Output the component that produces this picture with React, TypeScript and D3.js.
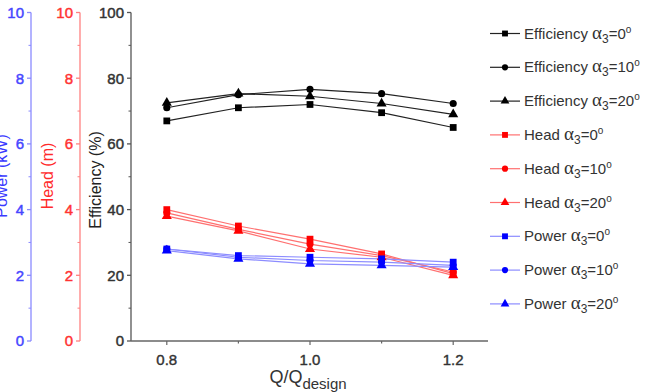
import { useEffect, useRef } from 'react';
import * as d3 from 'd3';

const width = 651;
const height = 392;

const flow = [0.8, 0.9, 1.0, 1.1, 1.2];
const angles = ['0', '10', '20'];

const effSquare = [67, 71, 72, 69.5, 65];
const effCircle = [71, 75, 76.6, 75.3, 72.3];
const effTriangle = [72.5, 75.3, 74.5, 72.3, 69];

const headSquare = [4.0, 3.5, 3.1, 2.65, 2.05];
const headCircle = [3.9, 3.4, 2.95, 2.6, 2.1];
const headTriangle = [3.8, 3.35, 2.8, 2.55, 2.0];

const powerSquare = [2.8, 2.6, 2.55, 2.5, 2.4];
const powerCircle = [2.8, 2.55, 2.45, 2.4, 2.3];
const powerTriangle = [2.75, 2.5, 2.35, 2.3, 2.25];

const effTicks = [0, 20, 40, 60, 80, 100];
const sideTicks = [0, 2, 4, 6, 8, 10];
const xTickLabels = [0.8, 1.0, 1.2];

const x = d3.scaleLinear().domain([0.75, 1.25]).range([131, 489]);
const yEff = d3.scaleLinear().domain([0, 100]).range([341, 12.5]);
const yHead = d3.scaleLinear().domain([0, 10]).range([341, 12.5]);
const yPower = d3.scaleLinear().domain([0, 10]).range([341, 12.5]);

const shapes = [d3.symbolSquare, d3.symbolCircle, d3.symbolTriangle];
const sizes = [46, 40, 44];

const series = [
  { name: 'Efficiency', values: effSquare, shape: 0, scale: yEff, mark: '#000', line: '#222' },
  { name: 'Efficiency', values: effCircle, shape: 1, scale: yEff, mark: '#000', line: '#222' },
  { name: 'Efficiency', values: effTriangle, shape: 2, scale: yEff, mark: '#000', line: '#222' },
  { name: 'Head', values: headSquare, shape: 0, scale: yHead, mark: '#ff0000', line: '#ff7070' },
  { name: 'Head', values: headCircle, shape: 1, scale: yHead, mark: '#ff0000', line: '#ff7070' },
  { name: 'Head', values: headTriangle, shape: 2, scale: yHead, mark: '#ff0000', line: '#ff7070' },
  { name: 'Power', values: powerSquare, shape: 0, scale: yPower, mark: '#0000ff', line: '#8c8cff' },
  { name: 'Power', values: powerCircle, shape: 1, scale: yPower, mark: '#0000ff', line: '#8c8cff' },
  { name: 'Power', values: powerTriangle, shape: 2, scale: yPower, mark: '#0000ff', line: '#8c8cff' },
];

const font = '"Liberation Sans", Arial, sans-serif';

export default function App() {
  const axesRef = useRef<SVGGElement>(null);

  useEffect(() => {
    const g = d3.select(axesRef.current);
    g.selectAll('*').remove();

    const drawLeft = (scale: any, xPos: number, major: number[], step: number, lineColor: string, textColor: string) => {
      const minor = d3.range(step / 2, major[major.length - 1], step);
      const axis = g.append('g').attr('transform', `translate(${xPos},0)`);
      axis.append('line').attr('y1', scale.range()[0]).attr('y2', scale.range()[1])
        .attr('stroke', lineColor).attr('stroke-width', 1.3);
      axis.selectAll('.maj').data(major).enter().append('line')
        .attr('x1', -4).attr('x2', 0).attr('y1', (d: number) => scale(d)).attr('y2', (d: number) => scale(d))
        .attr('stroke', lineColor).attr('stroke-width', 1.3);
      axis.selectAll('.min').data(minor).enter().append('line')
        .attr('x1', -2.5).attr('x2', 0).attr('y1', (d: number) => scale(d)).attr('y2', (d: number) => scale(d))
        .attr('stroke', lineColor).attr('stroke-width', 1);
      axis.selectAll('text').data(major).enter().append('text')
        .attr('x', -7).attr('y', (d: number) => scale(d)).attr('dy', '0.36em')
        .attr('text-anchor', 'end').attr('fill', textColor)
        .attr('stroke', textColor).attr('stroke-width', 0.45)
        .style('font-family', font).style('font-size', '15px')
        .text((d: number) => d);
    };

    drawLeft(yPower, 31, sideTicks, 2, '#8a8aff', '#4646ff');
    drawLeft(yHead, 80, sideTicks, 2, '#ff8080', '#ff3333');
    drawLeft(yEff, 131, effTicks, 20, '#555', '#333');

    const xa = g.append('g').attr('transform', 'translate(0,341)');
    xa.append('line').attr('x1', 131).attr('x2', 488).attr('stroke', '#666').attr('stroke-width', 1.3);
    xa.selectAll('.t').data(flow).enter().append('line')
      .attr('x1', (d: number) => x(d)).attr('x2', (d: number) => x(d))
      .attr('y1', 0).attr('y2', (d: number) => (xTickLabels.includes(d) ? 4 : 2.5))
      .attr('stroke', '#666').attr('stroke-width', 1.2);
    xa.selectAll('text').data(xTickLabels).enter().append('text')
      .attr('x', (d: number) => x(d)).attr('y', 24)
      .attr('text-anchor', 'middle').attr('fill', '#333')
      .attr('stroke', '#333').attr('stroke-width', 0.4)
      .style('font-family', font).style('font-size', '15px')
      .text((d: number) => d.toFixed(1));
  }, []);

  const line = d3.line<number>().x((_, i) => x(flow[i]));

  return (
    <svg width={width} height={height} style={{ position: 'absolute', left: 0, top: 0, background: '#fff' }}>
      <g ref={axesRef} />

      {series.map((s, k) => (
        <path key={'l' + k} d={line.y(v => s.scale(v))(s.values) || ''} fill="none" stroke={s.line} strokeWidth={1.2} />
      ))}
      {series.map((s, k) =>
        s.values.map((v, i) => (
          <path key={'m' + k + '-' + i}
            d={d3.symbol().type(shapes[s.shape]).size(sizes[s.shape])() || ''}
            transform={`translate(${x(flow[i])},${s.scale(v)})`} fill={s.mark} />
        ))
      )}

      {/* axis titles */}
      <text transform="translate(7,176) rotate(-90)" textAnchor="middle" fill="#3a3aff"
        style={{ fontFamily: font, fontSize: 16 }}>Power (kW)</text>
      <text transform="translate(53,176) rotate(-90)" textAnchor="middle" fill="#ff2a2a"
        style={{ fontFamily: font, fontSize: 16 }}>Head (m)</text>
      <text transform="translate(101,180) rotate(-90)" textAnchor="middle" fill="#222"
        style={{ fontFamily: font, fontSize: 16 }}>Efficiency (%)</text>
      <text x={308} y={383} textAnchor="middle" fill="#333" style={{ fontFamily: font, fontSize: 18 }}>
        Q/Q<tspan dy={6} fontSize={15}>design</tspan>
      </text>

      {/* legend */}
      {series.map((s, k) => {
        const ly = 33.5 + k * 33.8;
        return (
          <g key={'g' + k} transform={`translate(490,${ly})`}>
            <line x1={0} x2={30} y1={0} y2={0} stroke={s.line} strokeWidth={1.2} />
            <path d={d3.symbol().type(shapes[s.shape]).size(sizes[s.shape] * 0.75)() || ''}
              transform="translate(15,0)" fill={s.mark} />
            <text x={34} y={5} fill="#333" style={{ fontFamily: font, fontSize: 15 }}>
              {s.name + ' '}
              <tspan fontFamily='"Liberation Serif", serif' fontSize={19}>α</tspan>
              <tspan dy={4} fontSize={12}>3</tspan>
              <tspan dy={-4}>={angles[s.shape]}</tspan>
              <tspan dy={-6} fontSize={10}>o</tspan>
            </text>
          </g>
        );
      })}
    </svg>
  );
}
